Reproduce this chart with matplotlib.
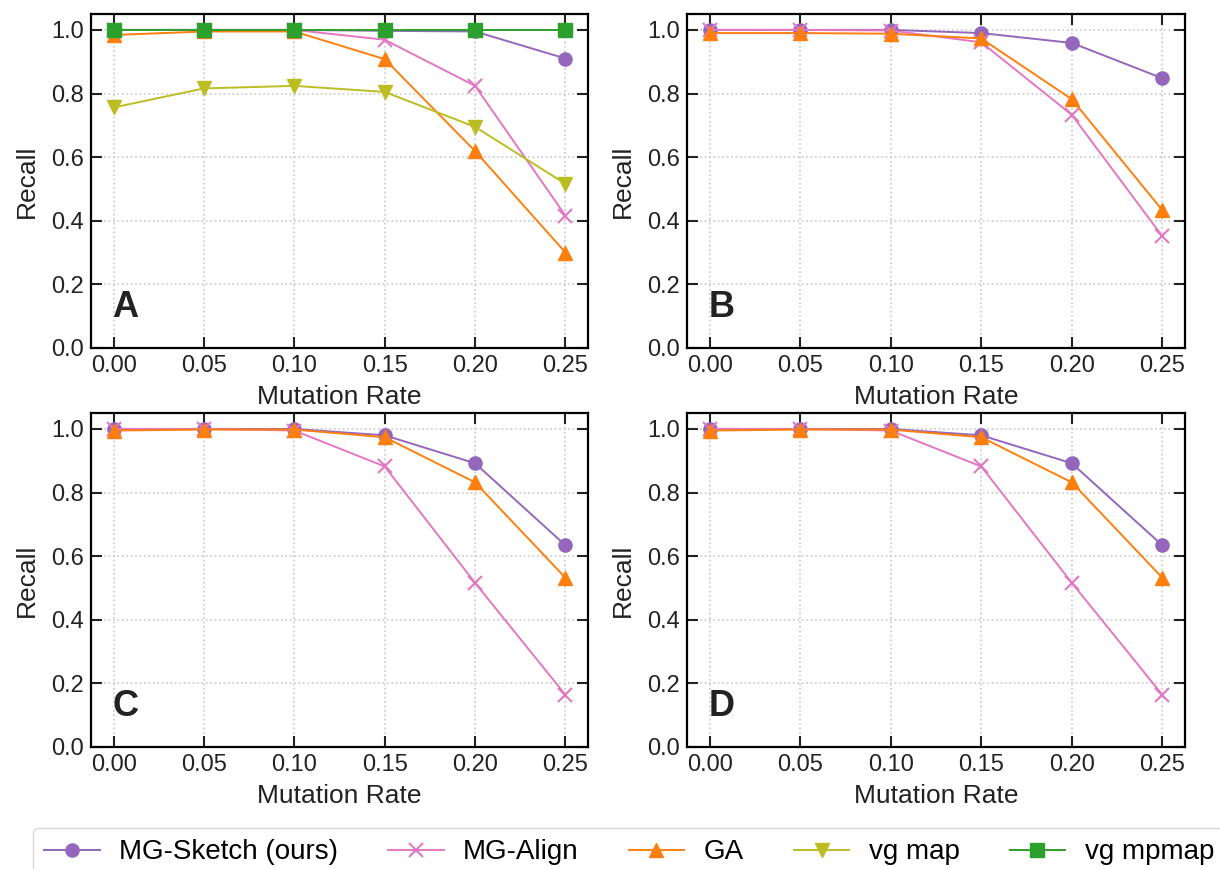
import matplotlib
matplotlib.use('Agg')
import matplotlib.pyplot as plt

plt.rcParams['font.family'] = ['Liberation Sans', 'DejaVu Sans']

rates = [0.00, 0.05, 0.10, 0.15, 0.20, 0.25]
rate_labels = ['0.00', '0.05', '0.10', '0.15', '0.20', '0.25']

# panel A
a_sketch = [1.0, 1.0, 1.0, 0.997, 0.995, 0.91]
a_align = [1.0, 1.0, 1.0, 0.969, 0.824, 0.416]
a_ga = [0.984, 0.995, 0.995, 0.908, 0.619, 0.30]
a_vgmap = [0.756, 0.816, 0.824, 0.805, 0.695, 0.516]
a_mpmap = [1.0, 1.0, 1.0, 1.0, 1.0, 1.0]

# panel B
b_sketch = [1.0, 1.0, 1.0, 0.99, 0.959, 0.848]
b_align = [1.0, 1.0, 0.998, 0.961, 0.733, 0.351]
b_ga = [0.99, 0.99, 0.988, 0.973, 0.782, 0.433]

# panel C
c_sketch = [1.0, 1.0, 1.0, 0.98, 0.892, 0.634]
c_align = [1.0, 1.0, 0.995, 0.882, 0.516, 0.164]
c_ga = [0.995, 0.998, 0.998, 0.974, 0.832, 0.532]

# panel D
d_sketch = [1.0, 1.0, 1.0, 0.98, 0.892, 0.634]
d_align = [1.0, 1.0, 0.995, 0.882, 0.516, 0.164]
d_ga = [0.995, 0.998, 0.998, 0.974, 0.832, 0.532]

styles = {
    'MG-Sketch (ours)': dict(color='#9467bd', marker='o', ms=9.5),
    'MG-Align': dict(color='#e377c2', marker='x', ms=9.5, mew=1.5),
    'GA': dict(color='#ff7f0e', marker='^', ms=10.5),
    'vg map': dict(color='#bcbd22', marker='v', ms=10.5),
    'vg mpmap': dict(color='#2ca02c', marker='s', ms=9.5),
}

panels = [
    ('A', {'MG-Sketch (ours)': a_sketch, 'MG-Align': a_align, 'GA': a_ga,
           'vg map': a_vgmap, 'vg mpmap': a_mpmap}),
    ('B', {'MG-Sketch (ours)': b_sketch, 'MG-Align': b_align, 'GA': b_ga}),
    ('C', {'MG-Sketch (ours)': c_sketch, 'MG-Align': c_align, 'GA': c_ga}),
    ('D', {'MG-Sketch (ours)': d_sketch, 'MG-Align': d_align, 'GA': d_ga}),
]

fig = plt.figure(figsize=(12.2, 8.69), dpi=100)
pos = [
    [0.0746, 0.5996, 0.4074, 0.3843],
    [0.5631, 0.5996, 0.4082, 0.3843],
    [0.0746, 0.1404, 0.4074, 0.3843],
    [0.5631, 0.1404, 0.4082, 0.3843],
]

for (letter, series), p in zip(panels, pos):
    ax = fig.add_axes(p)
    for name, vals in series.items():
        ax.plot(rates, vals, lw=1.4, label=name, **styles[name])
    ax.set_xlim(-0.0125, 0.2625)
    ax.set_ylim(0, 1.05)
    ax.set_xticks(rates)
    ax.set_xticklabels(rate_labels)
    ax.set_yticks([0, 0.2, 0.4, 0.6, 0.8, 1.0])
    ax.set_yticklabels(['0.0', '0.2', '0.4', '0.6', '0.8', '1.0'])
    ax.tick_params(direction='in', length=8, width=1.5, top=True, right=True,
                   labelsize=17, pad=5, colors='#222222')
    for s in ax.spines.values():
        s.set_linewidth(1.6)
    ax.grid(True, ls=':', color='#c8c8c8', lw=1.2)
    ax.set_axisbelow(True)
    ax.set_xlabel('Mutation Rate', fontsize=19, color='#222222', labelpad=6)
    ax.set_ylabel('Recall', fontsize=19, color='#222222', labelpad=9)
    ax.text(0.043, 0.07, letter, transform=ax.transAxes, fontsize=26,
            fontweight='bold', color='#222222', ha='left', va='bottom')

handles, labels = fig.axes[0].get_legend_handles_labels()
fig.legend(handles, labels, loc='upper left', bbox_to_anchor=(0.027, 0.047),
           borderaxespad=0, ncol=5, fontsize=20, frameon=True,
           edgecolor='#d0d0d0', handlelength=2.0, handletextpad=0.7,
           columnspacing=1.8, borderpad=0.4)

fig.savefig('out.png', dpi=100)
